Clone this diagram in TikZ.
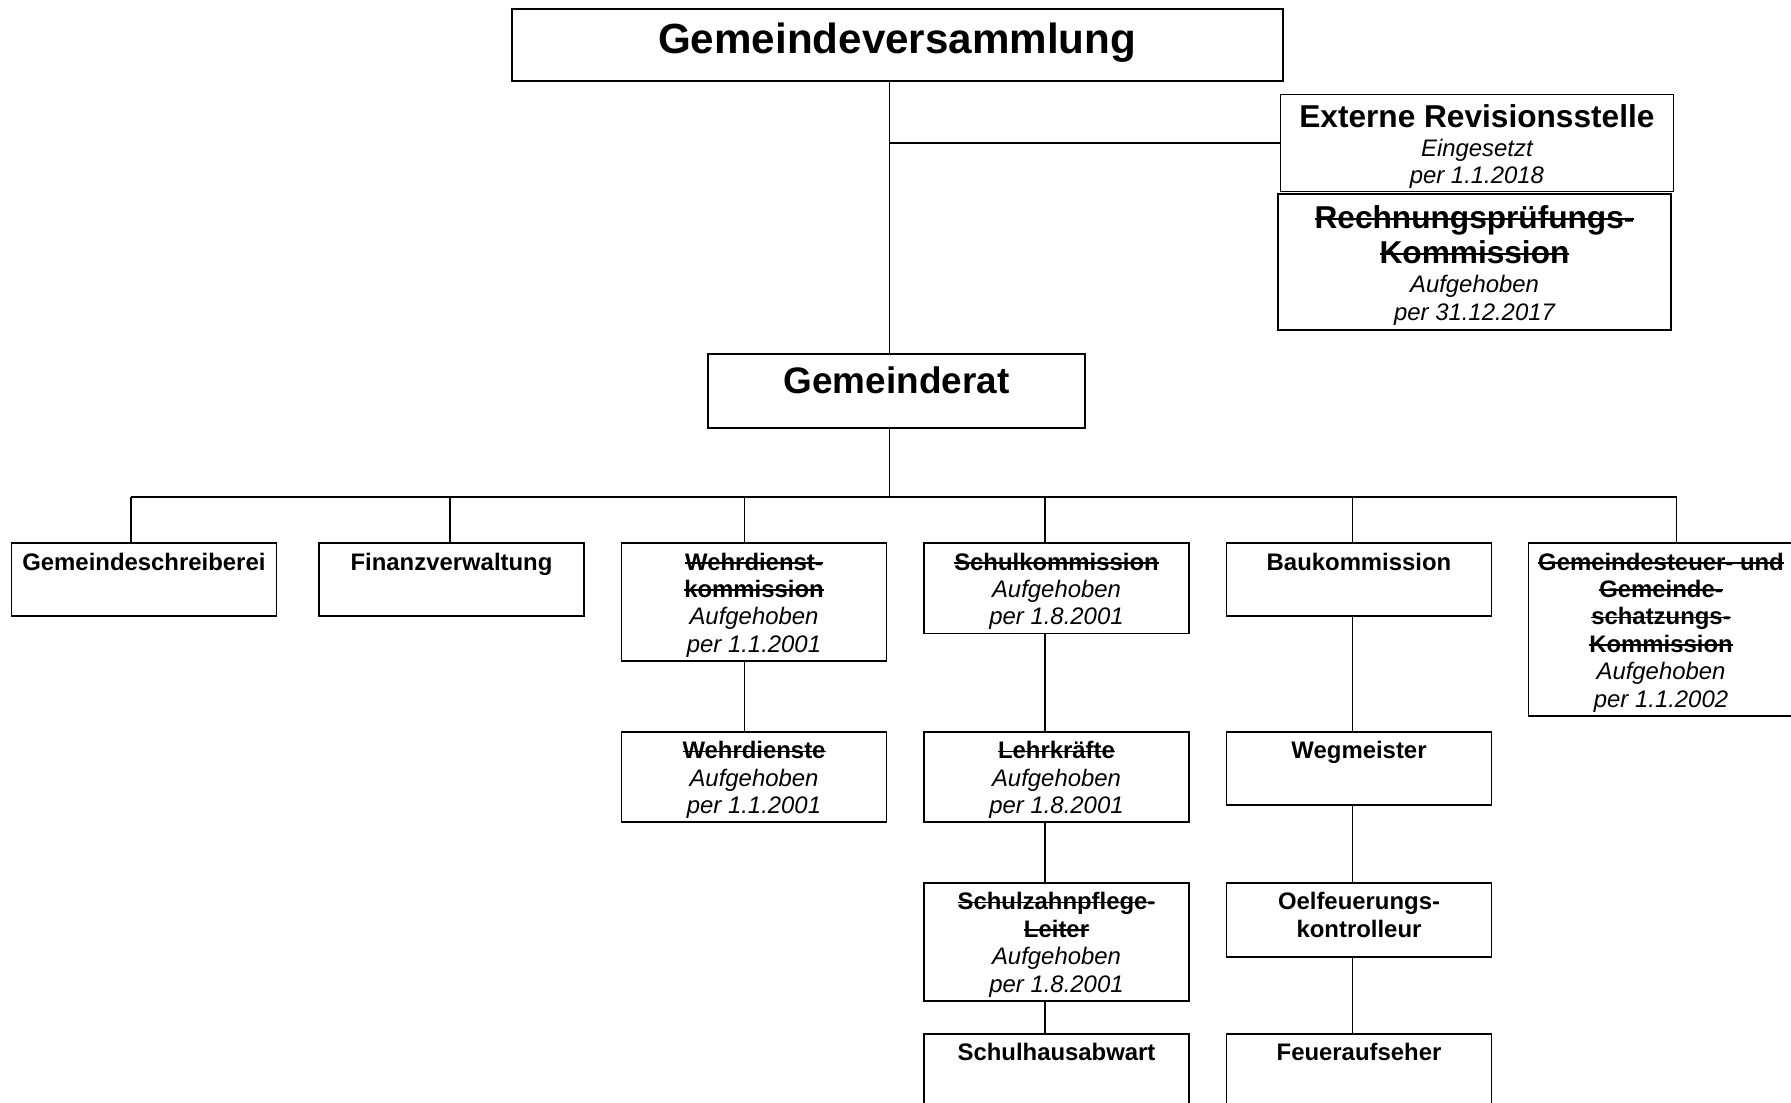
\documentclass[tikz,border=0pt]{standalone}
\usepackage{fontspec}
\setmainfont{Liberation Sans}
\newcommand{\fsmall}{\fontsize{6.8}{7.8}\selectfont}
\newcommand{\fmed}{\fontsize{9}{10}\selectfont}
\newcommand{\fbig}{\fontsize{10.5}{12}\selectfont}
\newcommand{\fhuge}{\fontsize{12}{14}\selectfont}
\newsavebox{\strikebox}
\newcommand{\strike}[1]{\leavevmode\sbox{\strikebox}{#1}\rlap{\rule[.27em]{\wd\strikebox}{.45pt}}\usebox{\strikebox}}
\tikzset{
  orgbox/.style={draw,line width=.45pt,anchor=north,align=flush center,inner xsep=0pt,inner ysep=.5mm},
  unit/.style={orgbox,text width=26.5mm,font=\fsmall\bfseries,text height=2.2mm,text depth=#1},
  unit/.default=4.1mm,
  conn/.style={line width=.35pt}
}
\begin{document}
\begin{tikzpicture}[x=.1mm,y=-.1mm]
  \useasboundingbox (0,0) rectangle (1791,1103);
  \clip (0,0) rectangle (1791,1103);

  % top
  \node[orgbox,text width=77.1mm,font=\fhuge\bfseries,text height=4mm,text depth=2.2mm] (gv) at (897.2,8) {Gemeindeversammlung};
  \node[orgbox,text width=39.3mm,font=\fmed\bfseries,text height=2.8mm,text depth=5.9mm] (ex) at (1476.9,93.7)
    {Externe Revisionsstelle\\[.35pt]{\fsmall\mdseries\itshape Eingesetzt\\per 1.1.2018\par}};
  \node[orgbox,text width=39.3mm,font=\fmed\bfseries,text height=2.95mm,text depth=9.65mm] (rp) at (1474.5,193)
    {\strike{Rechnungsprüfungs-}\\\strike{Kommission}\\[.55pt]{\fsmall\mdseries\itshape Aufgehoben\\per 31.12.2017\par}};
  \node[orgbox,text width=37.7mm,font=\fbig\bfseries,text height=3.5mm,text depth=2.9mm] (gr) at (896.5,353) {Gemeinderat};

  % first row
  \node[unit] (gs) at (143.9,542.3) {Gemeindeschreiberei};
  \node[unit] (fv) at (451.5,542.3) {Finanzverwaltung};
  \node[unit=8.6mm] (wk) at (754,542.3) {\strike{Wehrdienst-}\\\strike{kommission}\\\mdseries\itshape Aufgehoben\\per 1.1.2001};
  \node[unit=5.85mm] (sk) at (1056.5,542.3) {\strike{Schulkommission}\\\mdseries\itshape Aufgehoben\\per 1.8.2001};
  \node[unit] (bk) at (1359,542.3) {Baukommission};
  \node[unit=14.1mm] (st) at (1661,542.3) {\strike{Gemeindesteuer- und}\\\strike{Gemeinde-}\\\strike{schatzungs-}\\\strike{Kommission}\\\mdseries\itshape Aufgehoben\\per 1.1.2002};

  % lower rows
  \node[unit=5.8mm] (wd) at (754,731) {\strike{Wehrdienste}\\\mdseries\itshape Aufgehoben\\per 1.1.2001};
  \node[unit=5.8mm] (lk) at (1056.5,731) {\strike{Lehrkräfte}\\\mdseries\itshape Aufgehoben\\per 1.8.2001};
  \node[unit] (wm) at (1359,731) {Wegmeister};
  \node[unit=8.6mm] (sz) at (1056.5,882) {\strike{Schulzahnpflege-}\\\strike{Leiter}\\\mdseries\itshape Aufgehoben\\per 1.8.2001};
  \node[unit=4.2mm] (oe) at (1359,882) {Oelfeuerungs-\\kontrolleur};
  \node[unit] (sh) at (1056.5,1033) {Schulhausabwart};
  \node[unit] (fa) at (1359,1033) {Feueraufseher};

  % trunk and bus
  \coordinate (trunk) at (889.3,0);
  \draw[conn] (trunk |- gv.south) -- (trunk |- gr.north);
  \draw[conn] (trunk |- ex.west) -- (ex.west);
  \coordinate (busL) at (131,497);
  \coordinate (busR) at (1676.5,497);
  \draw[conn] (busL) -- (busR);
  \draw[conn] (trunk |- gr.south) -- (trunk |- busL);
  \foreach \n/\x in {gs/131,fv/450,wk/744.5,sk/1045,bk/1352.7,st/1676.5}{
    \coordinate (d-\n) at (\x,497);
    \draw[conn] (d-\n) -- (d-\n |- \n.north);
  }

  % columns
  \draw[conn] (d-wk |- wk.south) -- (d-wk |- wd.north);
  \draw[conn] (d-sk |- sk.south) -- (d-sk |- lk.north);
  \draw[conn] (d-sk |- lk.south) -- (d-sk |- sz.north);
  \draw[conn] (d-sk |- sz.south) -- (d-sk |- sh.north);
  \draw[conn] (d-bk |- bk.south) -- (d-bk |- wm.north);
  \draw[conn] (d-bk |- wm.south) -- (d-bk |- oe.north);
  \draw[conn] (d-bk |- oe.south) -- (d-bk |- fa.north);
\end{tikzpicture}
\end{document}
